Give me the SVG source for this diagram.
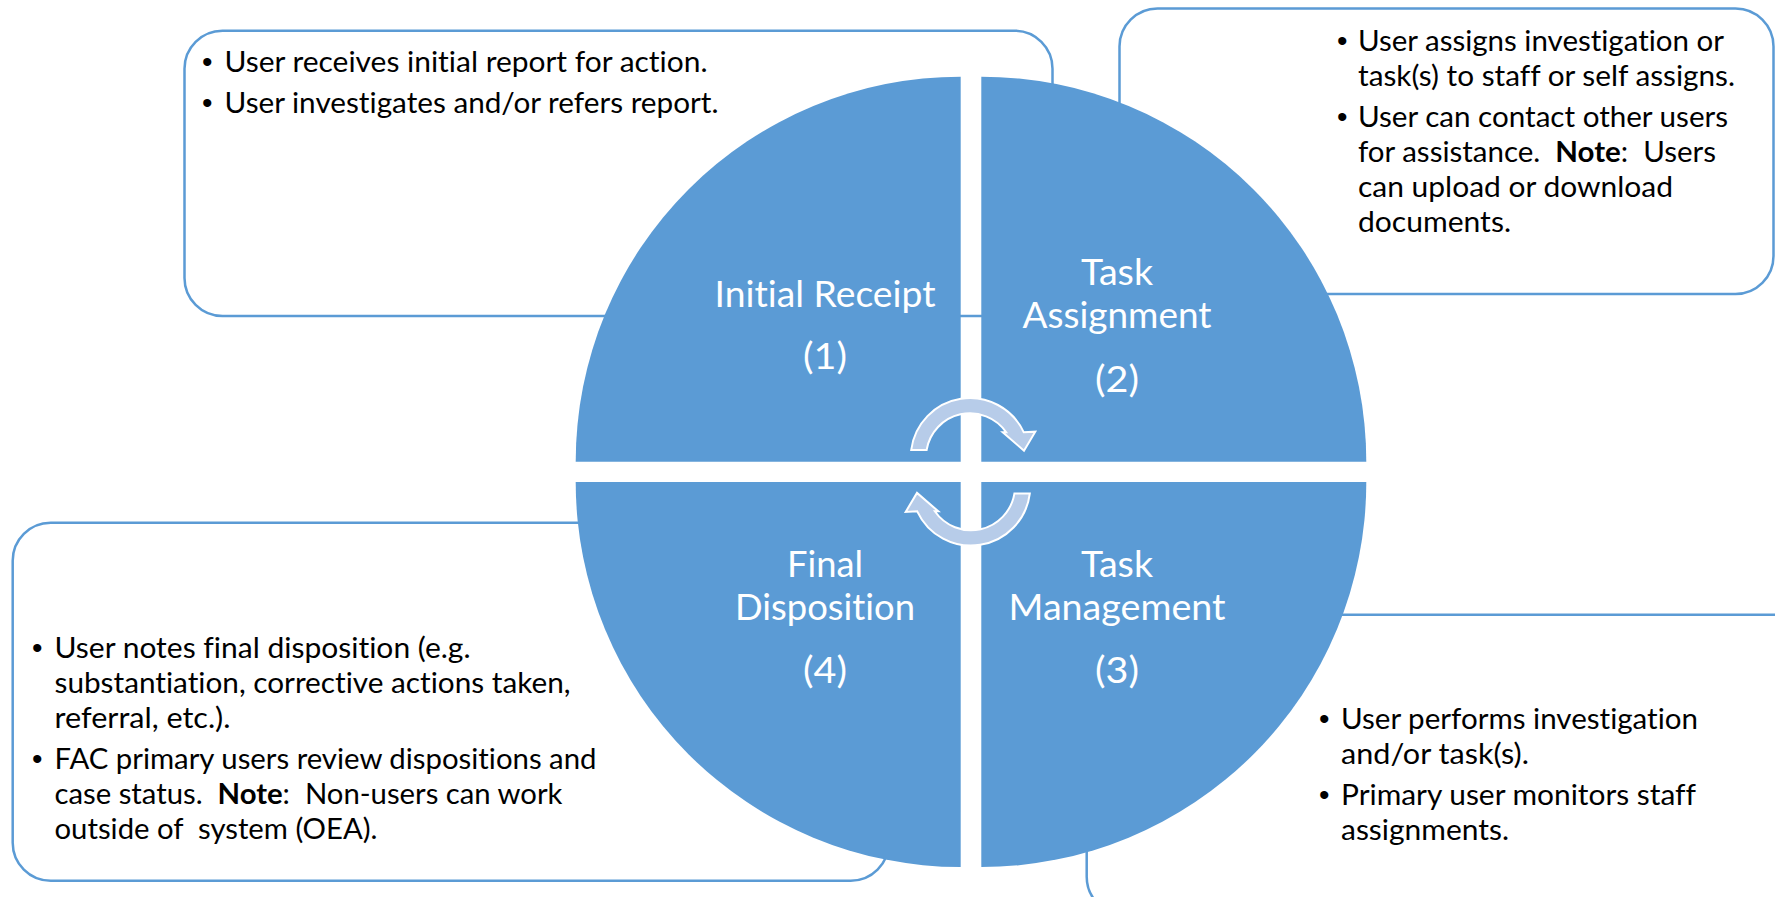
<svg xmlns="http://www.w3.org/2000/svg" width="1775" height="897" viewBox="0 0 1775 897">
  <style>
    .box { fill: #FFFFFF; stroke: #5B9BD5; stroke-width: 2.5; }
    .quad { fill: #5B9BD5; }
    .txt { font-family: Lato, "Open Sans", "Liberation Sans", sans-serif; font-size: 29px; fill: #000000; font-variant-ligatures: none; }
    .bul { font-family: "Liberation Sans", Arial, sans-serif; font-size: 30px; fill: #000000; }
    .b { font-weight: bold; }
    .lbl { font-family: Lato, "Open Sans", "Liberation Sans", sans-serif; font-size: 36px; fill: #FFFFFF; text-anchor: middle; font-variant-ligatures: none; }
    .arrow { fill: #B7CCE9; stroke: #FFFFFF; stroke-width: 2; stroke-linejoin: miter; }
  </style>
  <rect width="1775" height="897" fill="#FFFFFF"/>

  <!-- Text boxes (behind the circle) -->
  <g id="box-initial-receipt">
    <rect class="box" x="184.5" y="30.7" width="868" height="285.3" rx="38" ry="38"/>
    <text class="bul" x="202" y="72">•</text>
    <text class="txt" x="224.5" y="72" textLength="483" lengthAdjust="spacingAndGlyphs">User receives initial report for action.</text>
    <text class="bul" x="202" y="113">•</text>
    <text class="txt" x="224.5" y="113" textLength="494" lengthAdjust="spacingAndGlyphs">User investigates and/or refers report.</text>
  </g>

  <g id="box-task-assignment">
    <rect class="box" x="1119.5" y="8.5" width="654" height="285.5" rx="38" ry="38"/>
    <text class="bul" x="1337" y="51">•</text>
    <text class="txt" x="1358" y="51" textLength="366" lengthAdjust="spacingAndGlyphs">User assigns investigation or</text>
    <text class="txt" x="1358" y="86" textLength="377" lengthAdjust="spacingAndGlyphs">task(s) to staff or self assigns.</text>
    <text class="bul" x="1337" y="127">•</text>
    <text class="txt" x="1358" y="127" textLength="370" lengthAdjust="spacingAndGlyphs">User can contact other users</text>
    <text class="txt" x="1358" y="162" textLength="358" lengthAdjust="spacingAndGlyphs" xml:space="preserve">for assistance.  <tspan class="b">Note</tspan>:  Users</text>
    <text class="txt" x="1358" y="197" textLength="315" lengthAdjust="spacingAndGlyphs">can upload or download</text>
    <text class="txt" x="1358" y="232" textLength="153" lengthAdjust="spacingAndGlyphs">documents.</text>
  </g>

  <g id="box-final-disposition">
    <rect class="box" x="12.7" y="522.7" width="876" height="358" rx="38" ry="38"/>
    <text class="bul" x="32" y="658">•</text>
    <text class="txt" x="54.5" y="658" textLength="416" lengthAdjust="spacingAndGlyphs">User notes final disposition (e.g.</text>
    <text class="txt" x="54.5" y="693" textLength="516" lengthAdjust="spacingAndGlyphs">substantiation, corrective actions taken,</text>
    <text class="txt" x="54.5" y="728" textLength="176" lengthAdjust="spacingAndGlyphs">referral, etc.).</text>
    <text class="bul" x="32" y="769">•</text>
    <text class="txt" x="54.5" y="769" textLength="542" lengthAdjust="spacingAndGlyphs">FAC primary users review dispositions and</text>
    <text class="txt" x="54.5" y="804" textLength="508" lengthAdjust="spacingAndGlyphs" xml:space="preserve">case status.  <tspan class="b">Note</tspan>:  Non-users can work</text>
    <text class="txt" x="54.5" y="839" textLength="323" lengthAdjust="spacingAndGlyphs" xml:space="preserve">outside of  system (OEA).</text>
  </g>

  <g id="box-task-management">
    <rect class="box" x="1086.7" y="614.7" width="760" height="300" rx="38" ry="38"/>
    <text class="bul" x="1319" y="729">•</text>
    <text class="txt" x="1341" y="729" textLength="357" lengthAdjust="spacingAndGlyphs">User performs investigation</text>
    <text class="txt" x="1341" y="764" textLength="188" lengthAdjust="spacingAndGlyphs">and/or task(s).</text>
    <text class="bul" x="1319" y="805">•</text>
    <text class="txt" x="1341" y="805" textLength="355" lengthAdjust="spacingAndGlyphs">Primary user monitors staff</text>
    <text class="txt" x="1341" y="840" textLength="168" lengthAdjust="spacingAndGlyphs">assignments.</text>
  </g>

  <!-- Circle quadrants -->
  <g id="quad-initial-receipt">
    <path class="quad" d="M 960.7 461.7 L 575.7 461.7 A 385 385 0 0 1 960.7 76.7 Z"/>
    <text class="lbl" x="825" y="307" textLength="221" lengthAdjust="spacingAndGlyphs">Initial Receipt</text>
    <text class="lbl" x="825" y="369" textLength="44" lengthAdjust="spacingAndGlyphs">(1)</text>
  </g>
  <g id="quad-task-assignment">
    <path class="quad" d="M 981.3 461.7 L 981.3 76.7 A 385 385 0 0 1 1366.3 461.7 Z"/>
    <text class="lbl" x="1117" y="285" textLength="72" lengthAdjust="spacingAndGlyphs">Task</text>
    <text class="lbl" x="1117" y="328" textLength="189" lengthAdjust="spacingAndGlyphs">Assignment</text>
    <text class="lbl" x="1117" y="392" textLength="44" lengthAdjust="spacingAndGlyphs">(2)</text>
  </g>
  <g id="quad-task-management">
    <path class="quad" d="M 981.3 482 L 1366.3 482 A 385 385 0 0 1 981.3 867 Z"/>
    <text class="lbl" x="1117" y="577" textLength="72" lengthAdjust="spacingAndGlyphs">Task</text>
    <text class="lbl" x="1117" y="620" textLength="217" lengthAdjust="spacingAndGlyphs">Management</text>
    <text class="lbl" x="1117" y="683" textLength="44" lengthAdjust="spacingAndGlyphs">(3)</text>
  </g>
  <g id="quad-final-disposition">
    <path class="quad" d="M 960.7 482 L 960.7 867 A 385 385 0 0 1 575.7 482 Z"/>
    <text class="lbl" x="825" y="577" textLength="76" lengthAdjust="spacingAndGlyphs">Final</text>
    <text class="lbl" x="825" y="620" textLength="180" lengthAdjust="spacingAndGlyphs">Disposition</text>
    <text class="lbl" x="825" y="683" textLength="44" lengthAdjust="spacingAndGlyphs">(4)</text>
  </g>

  <!-- Cycle arrows -->
  <g id="connectors">
    <path id="arrow-top" class="arrow" d="M 911.2 450 A 59.3 59.3 0 0 1 1023.8 432.3 L 1035.3 431.7 L 1024 450.7 L 1002.7 432.3 L 1006.2 432.3 A 44 44 0 0 0 926.6 450 Z"/>
    <path id="arrow-bottom" class="arrow" transform="rotate(180 970.5 471.8)" d="M 911.2 450 A 59.3 59.3 0 0 1 1023.8 432.3 L 1035.3 431.7 L 1024 450.7 L 1002.7 432.3 L 1006.2 432.3 A 44 44 0 0 0 926.6 450 Z"/>
  </g>
</svg>
